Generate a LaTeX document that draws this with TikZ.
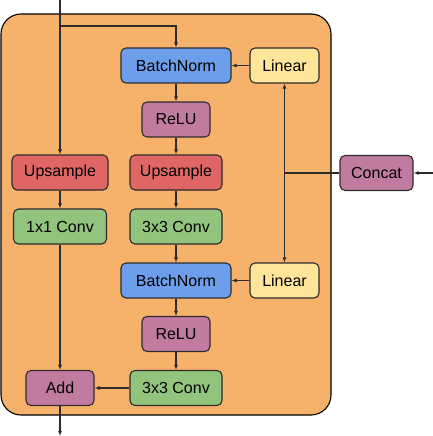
\documentclass[tikz,border=0pt]{standalone}
\usepackage{fontspec}
\setmainfont{Liberation Sans}
\usetikzlibrary{arrows.meta}
\definecolor{blockbg}{HTML}{F6B26B}
\definecolor{bnblue}{HTML}{6D9EEB}
\definecolor{linyellow}{HTML}{FFE599}
\definecolor{relupurple}{HTML}{C27BA0}
\definecolor{upred}{HTML}{E06666}
\definecolor{convgreen}{HTML}{93C47D}
\definecolor{edge}{HTML}{2B2B2B}
\begin{document}
\begin{tikzpicture}[x=1pt,y=-1pt,>={Latex[length=5pt,width=4pt]},
  line width=1.1pt,draw=edge,
  op/.style={draw=edge,rounded corners=5pt,minimum height=35pt,inner sep=0pt,font=\fontsize{16}{19}\selectfont}]
\useasboundingbox (0,0) rectangle (433,436);
\draw[fill=blockbg,draw=black,rounded corners=20pt] (1,14) rectangle (331,415);
\node[op,fill=bnblue,minimum width=110pt] (bn1) at (176,65.5) {BatchNorm};
\node[op,fill=linyellow,minimum width=69pt] (lin1) at (284.5,65.5) {Linear};
\node[op,fill=relupurple,minimum width=68pt] (relu1) at (176,119.5) {ReLU};
\node[op,fill=upred,minimum width=96pt] (up1) at (60,172.5) {Upsample};
\node[op,fill=upred,minimum width=92pt] (up2) at (176,172.5) {Upsample};
\node[op,fill=convgreen,minimum width=93pt] (c1) at (60,226.5) {1x1 Conv};
\node[op,fill=convgreen,minimum width=92pt] (c3a) at (176,226.5) {3x3 Conv};
\node[op,fill=bnblue,minimum width=110pt] (bn2) at (176,280.5) {BatchNorm};
\node[op,fill=linyellow,minimum width=69pt] (lin2) at (284.5,280.5) {Linear};
\node[op,fill=relupurple,minimum width=68pt] (relu2) at (176,334) {ReLU};
\node[op,fill=relupurple,minimum width=68pt] (add) at (60,388) {Add};
\node[op,fill=convgreen,minimum width=92pt] (c3b) at (176,388) {3x3 Conv};
\node[op,fill=relupurple,minimum width=73pt] (cat) at (376.5,173) {Concat};
\coordinate (in) at (60,0);
\coordinate (split) at (60,26);
\coordinate (out) at (60,436);
\coordinate (cin) at (433,173);
\coordinate (tap) at (284.5,173);
% main path
\draw[->] (in) -- (up1);
\draw[->] (split) -| (bn1.north);
\draw[->] (bn1) -- (relu1); \draw[->] (relu1) -- (up2); \draw[->] (up2) -- (c3a);
\draw[->] (c3a) -- (bn2); \draw[->] (bn2) -- (relu2); \draw[->] (relu2) -- (c3b);
\draw[->] (up1) -- (c1); \draw[->] (c1) -- (add); \draw[->] (c3b) -- (add);
\draw[->] (add) -- (out);
% conditioning
\draw[->] (cin) -- (cat);
\draw (cat) -- (tap);
\draw[<->] (lin1) -- (lin2);
\draw[->] (lin1) -- (bn1); \draw[->] (lin2) -- (bn2);
\end{tikzpicture}
\end{document}
